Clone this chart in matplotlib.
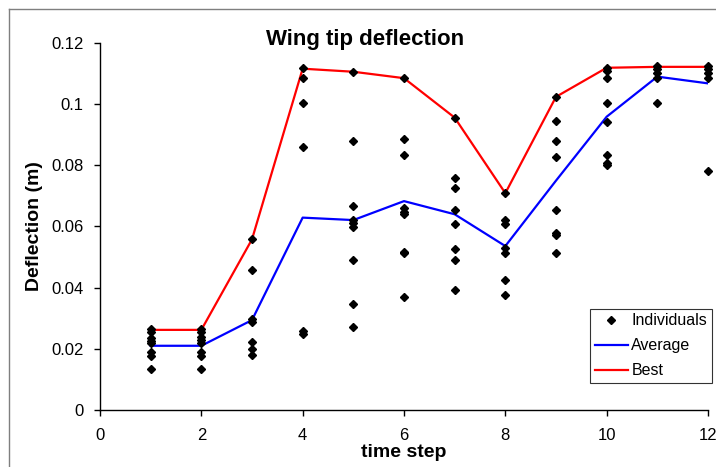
import matplotlib
matplotlib.use("Agg")
import matplotlib.pyplot as plt
from matplotlib.lines import Line2D

plt.rcParams['font.family'] = ['Liberation Sans', 'DejaVu Sans']

# Time steps of the optimisation run
steps = [1, 2, 3, 4, 5, 6, 7, 8, 9, 10, 11, 12]

# Deflection of every individual in the population at each time step (m)
individuals = [
    [0.0264, 0.0254, 0.0236, 0.0227, 0.0218, 0.0189, 0.0178, 0.0133],
    [0.0264, 0.0254, 0.0238, 0.0229, 0.0220, 0.0189, 0.0177, 0.0133],
    [0.0558, 0.0458, 0.0297, 0.0288, 0.0223, 0.0199, 0.0180],
    [0.1119, 0.1085, 0.1005, 0.0861, 0.0259, 0.0249],
    [0.1106, 0.0880, 0.0667, 0.0621, 0.0612, 0.0599, 0.0491, 0.0346, 0.0270],
    [0.1085, 0.0886, 0.0834, 0.0660, 0.0648, 0.0641, 0.0518, 0.0512, 0.0370],
    [0.0956, 0.0758, 0.0727, 0.0653, 0.0608, 0.0527, 0.0489, 0.0391],
    [0.0709, 0.0621, 0.0608, 0.0529, 0.0514, 0.0426, 0.0376],
    [0.1024, 0.0945, 0.0880, 0.0826, 0.0653, 0.0580, 0.0572, 0.0512],
    [0.1119, 0.1109, 0.1085, 0.1005, 0.0943, 0.0834, 0.0809, 0.0801],
    [0.1126, 0.1114, 0.1101, 0.1087, 0.1003],
    [0.1126, 0.1114, 0.1103, 0.1085, 0.0781],
]

# Population average and best deflection per time step (m)
average = [0.0210, 0.0210, 0.0294, 0.0629, 0.0621, 0.0683,
           0.0640, 0.0536, 0.0750, 0.0959, 0.1090, 0.1068]
best = [0.0262, 0.0262, 0.0558, 0.1116, 0.1106, 0.1085,
        0.0956, 0.0709, 0.1024, 0.1119, 0.1122, 0.1122]

xticks = [0, 2, 4, 6, 8, 10, 12]
yticks = [0, 0.02, 0.04, 0.06, 0.08, 0.1, 0.12]
ytick_labels = ['0', '0.02', '0.04', '0.06', '0.08', '0.1', '0.12']

W, H = 716, 467
fig = plt.figure(figsize=(W / 100, H / 100), dpi=100)
ax = fig.add_axes([100 / W, 1 - 410 / H, 608 / W, 367 / H])

ind_x = [s for s, vals in zip(steps, individuals) for _ in vals]
ind_y = [v for vals in individuals for v in vals]

ax.plot(steps, average, color='#0000ff', lw=1.6, label='Average', zorder=2)
ax.plot(steps, best, color='#ff0000', lw=1.6, label='Best', zorder=2)
ax.plot(ind_x, ind_y, linestyle='none', marker='D', ms=3.7, color='black',
        label='Individuals', zorder=3, clip_on=False)

ax.set_xlim(0, 12)
ax.set_ylim(0, 0.12)
ax.set_xticks(xticks)
ax.set_yticks(yticks)
ax.set_yticklabels(ytick_labels)
for side in ('top', 'right'):
    ax.spines[side].set_visible(False)
for side in ('left', 'bottom'):
    ax.spines[side].set_linewidth(1.0)
    ax.spines[side].set_color('black')
ax.tick_params(direction='out', length=4, width=1.0, labelsize=12,
               colors='black')
ax.tick_params(axis='x', pad=9)
ax.tick_params(axis='y', pad=8)

ax.set_xlabel('time step', fontsize=14, fontweight='bold', labelpad=1)
ax.set_ylabel('Deflection (m)', fontsize=14, fontweight='bold', labelpad=6)

fig.text(365 / W, 1 - 39 / H, 'Wing tip deflection', fontsize=16,
         fontweight='bold', ha='center', va='center')

handles, labels = ax.get_legend_handles_labels()
order = [2, 0, 1]
leg = ax.legend([handles[i] for i in order], [labels[i] for i in order],
                loc='lower right', bbox_to_anchor=(712 / W, 1 - 383 / H),
                bbox_transform=fig.transFigure, fontsize=11.5, frameon=True,
                fancybox=False, edgecolor='black', borderpad=0.3,
                labelspacing=0.62, handlelength=2.1, handletextpad=0.2,
                borderaxespad=0)
leg.get_frame().set_linewidth(0.8)

# Outer chart-area border along the left and top edges
fig.add_artist(Line2D([9 / W, 9 / W], [0, 1 - 9 / H], transform=fig.transFigure,
                      color='#7f7f7f', lw=1.0))
fig.add_artist(Line2D([9 / W, 1], [1 - 9 / H, 1 - 9 / H], transform=fig.transFigure,
                      color='#7f7f7f', lw=1.0))

fig.savefig('out.png', dpi=100)
